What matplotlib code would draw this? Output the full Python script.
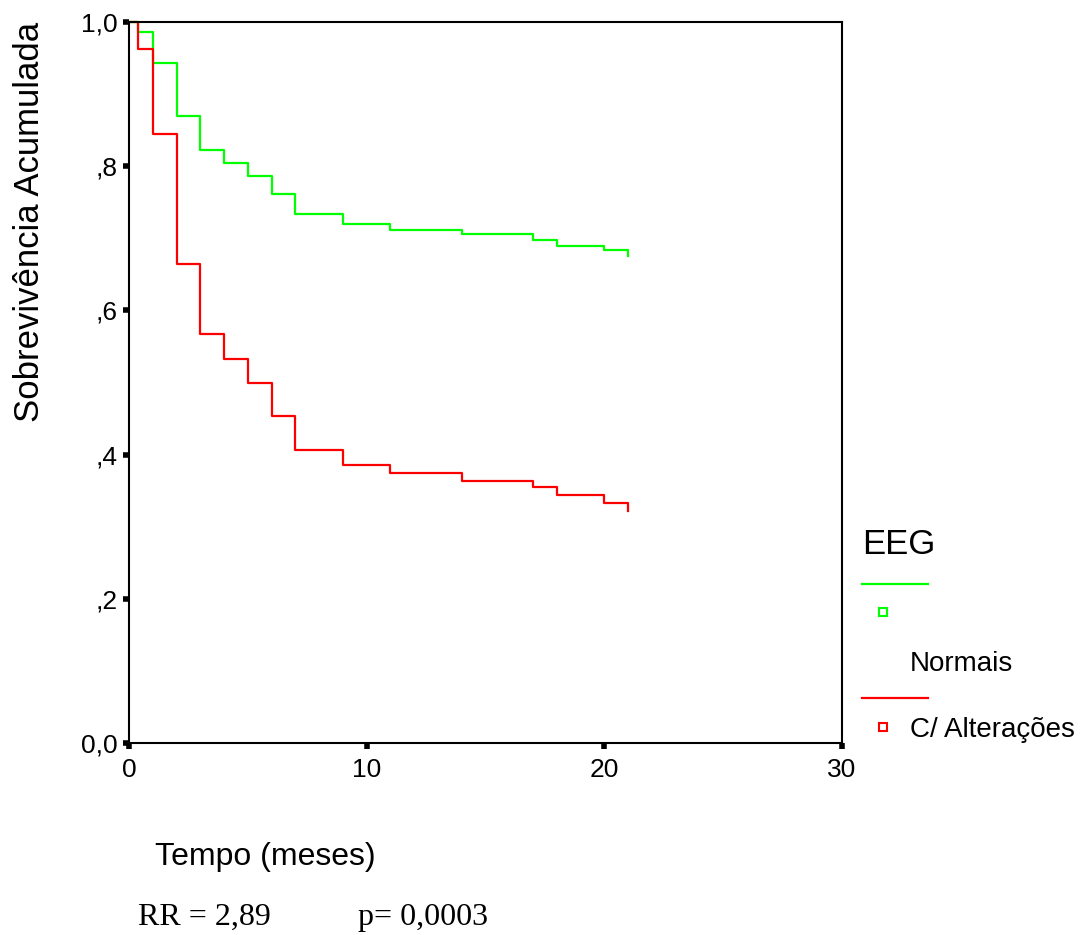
import matplotlib.pyplot as plt
import numpy as np

# Dados (Kaplan-Meier, EEG)
tempos = [0, 0.37, 1, 2, 3, 4, 5, 6, 7, 9, 11, 14, 17, 18, 20, 21]
surv_normais = [1.0, 0.986, 0.943, 0.869, 0.823, 0.804, 0.786, 0.761,
                0.734, 0.720, 0.711, 0.706, 0.698, 0.690, 0.684, 0.676]
surv_alteracoes = [1.0, 0.962, 0.845, 0.665, 0.567, 0.532, 0.499, 0.453,
                   0.407, 0.385, 0.374, 0.363, 0.355, 0.344, 0.333, 0.322]
y_ticks = [0.0, 0.2, 0.4, 0.6, 0.8, 1.0]
y_labels = ['0,0', ',2', ',4', ',6', ',8', '1,0']
x_ticks = [0, 10, 20, 30]

plt.rcParams['font.family'] = ['Liberation Sans', 'DejaVu Sans']

W, H = 1085, 935
fig = plt.figure(figsize=(W / 100, H / 100), dpi=100)
ax = fig.add_axes([129 / W, 1 - 743 / H, (842 - 129) / W, (743 - 22) / H])

ax.step(tempos, surv_normais, where='post', color='#00ff00', lw=1.6, clip_on=False)
ax.step(tempos, surv_alteracoes, where='post', color='#ff0000', lw=1.6, clip_on=False)

ax.set_xlim(0, 30)
ax.set_ylim(0, 1.0)
ax.set_xticks(x_ticks)
ax.set_xticklabels([str(t) for t in x_ticks])
ax.set_yticks(y_ticks)
ax.set_yticklabels(y_labels)
ax.tick_params(axis='both', direction='out', length=4, width=4, labelsize=19)
ax.tick_params(axis='y', pad=4)
ax.tick_params(axis='x', pad=7)
for s in ax.spines.values():
    s.set_linewidth(1.5)

# Rótulos dos eixos
fig.text(30 / W, 1 - 222 / H, 'Sobrevivência Acumulada', rotation=90,
         ha='center', va='center', fontsize=25)
fig.text(155 / W, 1 - 857 / H, 'Tempo (meses)', ha='left', va='center', fontsize=23)

# Legenda manual (estilo SPSS)
fig.text(862 / W, 1 - 545 / H, 'EEG', ha='left', va='center', fontsize=25)
fig.add_artist(plt.Line2D([862 / W, 928 / W], [1 - 584 / H] * 2, color='#00ff00', lw=1.6))
fig.add_artist(plt.Line2D([883 / W], [1 - 612 / H], marker='s', ms=6, mfc='white',
                          mec='#00ff00', mew=1.5))
fig.text(910 / W, 1 - 664 / H, 'Normais', ha='left', va='center', fontsize=20)
fig.add_artist(plt.Line2D([862 / W, 928 / W], [1 - 698 / H] * 2, color='#ff0000', lw=1.6))
fig.add_artist(plt.Line2D([883 / W], [1 - 727 / H], marker='s', ms=6, mfc='white',
                          mec='#ff0000', mew=1.5))
fig.text(910 / W, 1 - 730 / H, 'C/ Alterações', ha='left', va='center', fontsize=20)

# Estatísticas
fig.text(138 / W, 1 - 917 / H, 'RR = 2,89', ha='left', va='center', fontsize=23,
         family='Liberation Serif')
fig.text(358 / W, 1 - 917 / H, 'p= 0,0003', ha='left', va='center', fontsize=23,
         family='Liberation Serif')

plt.savefig('out.png', dpi=100)
